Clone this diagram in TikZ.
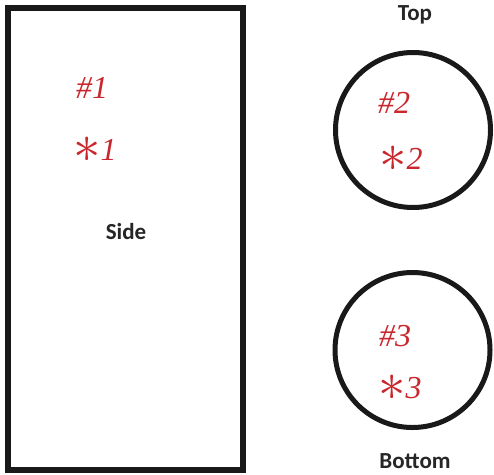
\documentclass[tikz,border=0pt]{standalone}
\usepackage{fontspec}
\usepackage{graphicx}
\setmainfont{Liberation Serif}
\newfontfamily\lblfont{Carlito}
\definecolor{pen}{RGB}{200,40,45}
\begin{document}
\begin{tikzpicture}[x=1pt,y=-1pt,
  outline/.style={draw=black!90,line width=5.5pt,inner sep=0pt},
  lbl/.style={font=\lblfont\bfseries\fontsize{23}{23}\selectfont,text=black!85,inner sep=0pt},
  hand/.style={font=\itshape\fontsize{32}{32}\selectfont,text=pen,inner sep=0pt}]
\useasboundingbox (0,0) rectangle (494,474);
\fill[white] (0,0) rectangle (494,474);
% side rectangle
\draw[draw=black!90,line width=5.5pt] (8,8) rectangle (243,470);
% circles
\draw[draw=black!90,line width=5pt] (413,130) circle[radius=77.5pt];
\draw[draw=black!90,line width=5pt] (412.5,350) circle[radius=77.5pt];
% labels
\node[lbl] (sidelbl) at (126,232) {Side};
\node[lbl] (toplbl) at (415,15) {Top};
\node[lbl,anchor=base] (botlbl) at (415,468) {Bottom};
% handwritten marks
\node[hand] (h1) at (92,88) {\#1};
\node[hand] (s1) at (95,150) {\smash{\raisebox{-2pt}{\scalebox{2.2}{$\ast$}}}1};
\node[hand] (h2) at (394,103) {\#2};
\node[hand] (s2) at (401,159) {\smash{\raisebox{-2pt}{\scalebox{2.2}{$\ast$}}}2};
\node[hand] (h3) at (395,336) {\#3};
\node[hand] (s3) at (400,388) {\smash{\raisebox{-2pt}{\scalebox{2.2}{$\ast$}}}3};
\end{tikzpicture}
\end{document}
